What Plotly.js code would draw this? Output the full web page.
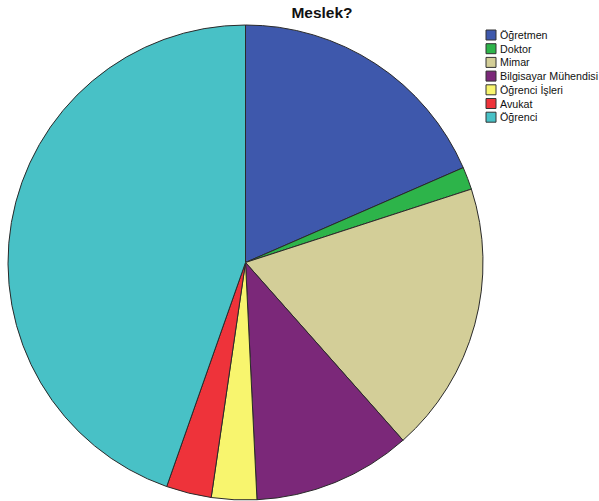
<!DOCTYPE html>
<html><head><meta charset="utf-8">
<script src="https://cdn.plot.ly/plotly-3.0.1.min.js"></script>
<style>html,body{margin:0;padding:0;overflow:hidden;background:#fff}</style>
</head><body>
<div id="chart" style="width:599px;height:501px"></div>
<script>
const categories = ["Öğretmen", "Doktor", "Mimar", "Bilgisayar Mühendisi", "Öğrenci İşleri", "Avukat", "Öğrenci"];
const counts = [12, 1, 12, 7, 2, 2, 29];
const colors = ["#3e58ac", "#2db44a", "#d3ce98", "#7b2879", "#f8f56e", "#ee333a", "#48c1c6"];

const W = 599, H = 501;
const FONT = "Liberation Sans, Arial, sans-serif";
const trace = {
  type: "pie",
  labels: categories,
  values: counts,
  sort: false,
  direction: "clockwise",
  rotation: 0,
  textinfo: "none",
  hoverinfo: "label+value+percent",
  showlegend: false,
  marker: {colors: colors, line: {color: "#2a2a2a", width: 1}},
  domain: {x: [8 / W, 483 / W], y: [1 - 500 / H, 1 - 25 / H]}
};

// legend built from the category/colour arrays
const shapes = [], annotations = [];
const rowTop = 30, rowStep = 13.7, sw = 10;
categories.forEach((c, i) => {
  const top = rowTop + i * rowStep;
  shapes.push({type: "rect", xref: "paper", yref: "paper",
    x0: 486 / W, x1: (486 + sw) / W, y0: 1 - (top + sw) / H, y1: 1 - top / H,
    fillcolor: colors[i], line: {color: "#333", width: 1}});
  annotations.push({xref: "paper", yref: "paper", x: 497.5 / W, y: 1 - (top + sw / 2) / H,
    xanchor: "left", yanchor: "middle", showarrow: false, text: c,
    font: {family: FONT, size: 10.7, color: "#111"}});
});

const layout = {
  width: W, height: H,
  margin: {l: 0, r: 0, t: 0, b: 0},
  paper_bgcolor: "#fff",
  title: {text: "<b>Meslek?</b>", font: {family: FONT, size: 15.5, color: "#111"},
          x: 322 / W, xanchor: "center", y: 1 - 13 / H, yanchor: "middle"},
  showlegend: false,
  shapes: shapes,
  annotations: annotations
};
Plotly.newPlot("chart", [trace], layout, {displayModeBar: false, staticPlot: true});
</script>
</body></html>
